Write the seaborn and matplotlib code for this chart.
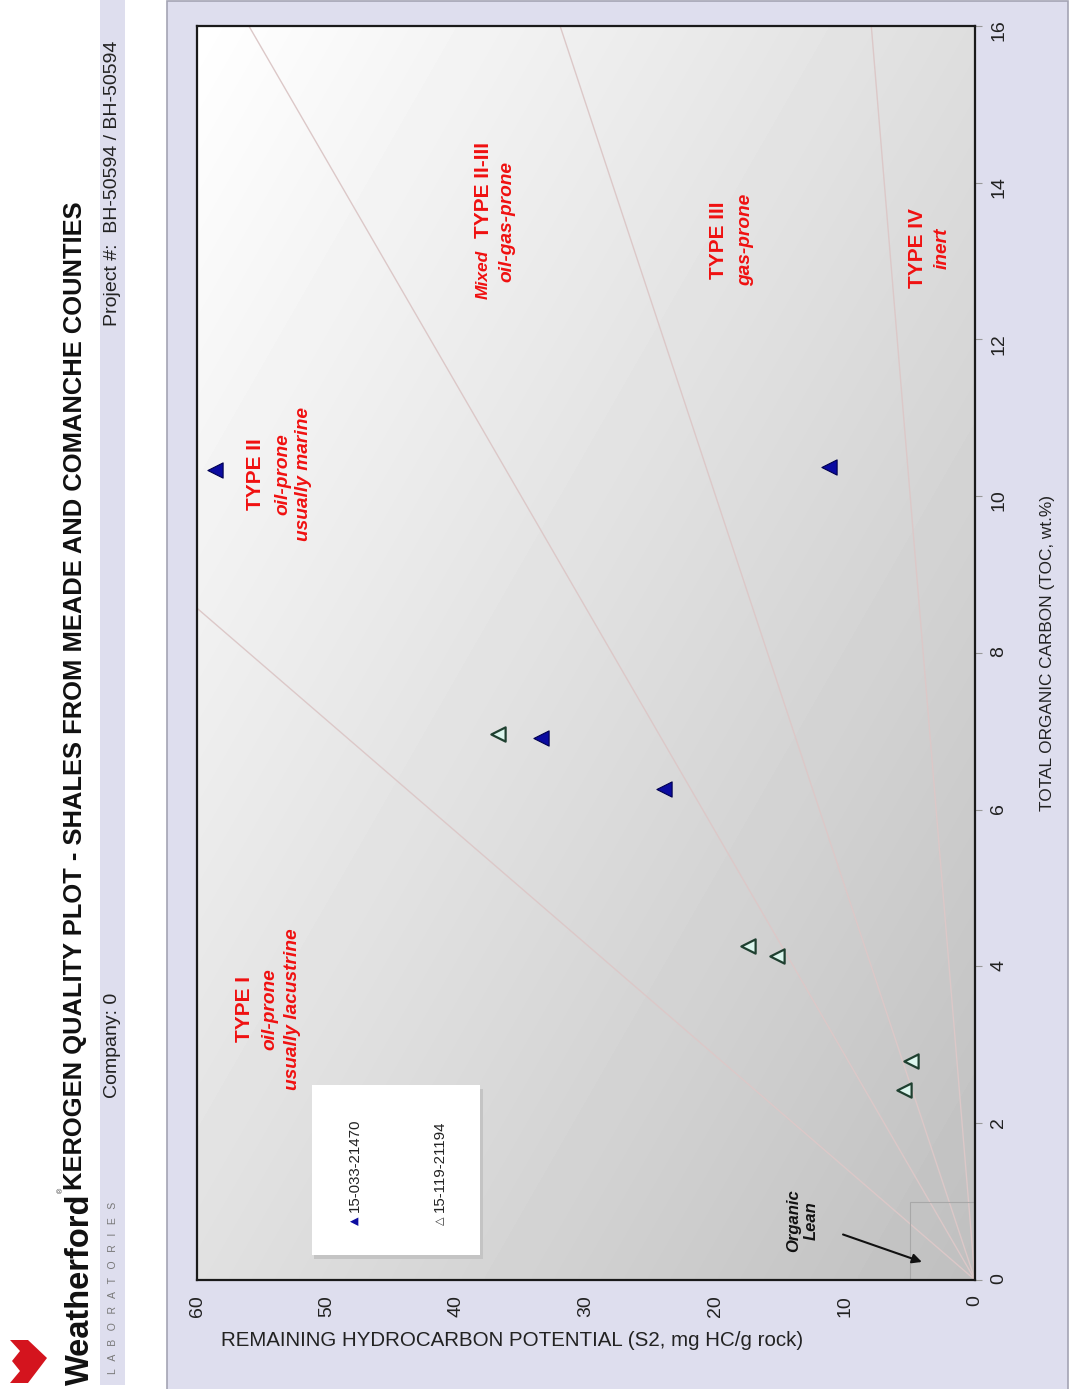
import numpy as np
import pandas as pd
import seaborn as sns
import matplotlib
matplotlib.use("Agg")
import matplotlib.pyplot as plt
from matplotlib.patches import Rectangle, Polygon

# values (S2 in mg HC/g rock, TOC in wt.%)
well_a = "15-033-21470"
well_a_s2 = [58.6, 33.5, 24.0, 11.3]
well_a_toc = [10.34, 6.91, 6.27, 10.37]

well_b = "15-119-21194"
well_b_s2 = [36.8, 17.5, 15.3, 4.9, 5.5]
well_b_toc = [6.97, 4.26, 4.13, 2.80, 2.42]

# kerogen type boundaries as hydrogen index (mg HC/g TOC)
hi_bounds = [700, 350, 200, 50]

s2_ticks = [0, 10, 20, 30, 40, 50, 60]
toc_ticks = [0, 2, 4, 6, 8, 10, 12, 14, 16]

title = "KEROGEN QUALITY PLOT - SHALES FROM MEADE AND COMANCHE COUNTIES"
company = "Company: 0"
project = "Project #:  BH-50594 / BH-50594"
xlab = "REMAINING HYDROCARBON POTENTIAL (S2, mg HC/g rock)"
ylab = "TOTAL ORGANIC CARBON (TOC, wt.%)"

sns.set_style("white")
plt.rcParams['font.family'] = ['Liberation Sans', 'DejaVu Sans']
red = '#f01010'

fig = plt.figure(figsize=(10.73, 13.89), dpi=100)
fig.patch.set_facecolor('white')

# lavender panel and header strip
fig.add_artist(Rectangle((0.1556, -0.01), 0.8397, 1.0093, transform=fig.transFigure,
                         facecolor='#dedeee', edgecolor='#a4a4b4', lw=1.2, zorder=0))
fig.add_artist(Rectangle((0.0932, 0.003), 0.0233, 0.997, transform=fig.transFigure,
                         facecolor='#dedeee', edgecolor='none', zorder=0))

ax = fig.add_axes([0.1836, 0.0785, 0.7251, 0.9028])

# shaded plot background
u, v = np.meshgrid(np.linspace(0, 1, 200), np.linspace(0, 1, 200))
shade = 1 - 0.13 * u - 0.12 * (1 - v)
ax.imshow(shade, cmap='gray', vmin=0, vmax=1, extent=[0, 1, 0, 1], transform=ax.transAxes,
          origin='lower', aspect='auto', zorder=0, interpolation='bilinear')

# type boundary lines
for hi in hi_bounds:
    toc_end = min(16, 60 / (hi / 100))
    ax.plot([0, toc_end * hi / 100], [0, toc_end], color='#dcc8c8', lw=1.0, zorder=1)

# organic lean box
ax.add_patch(Rectangle((0, 0), 5, 1, fill=False, edgecolor='#a8a8a8', lw=0.8, zorder=1))

sns.scatterplot(x=well_a_s2, y=well_a_toc, marker='<', s=120, color='#0b0ba0',
                edgecolor='#000050', linewidth=0.8, ax=ax, legend=False, zorder=5)
sns.scatterplot(x=well_b_s2, y=well_b_toc, marker='<', s=105, color='#dcf6ee',
                edgecolor='#1f4030', linewidth=1.6, ax=ax, legend=False, zorder=5)

ax.set_xlim(60, 0)
ax.set_ylim(0, 16)
ax.set_xticks(s2_ticks)
ax.set_yticks(toc_ticks)
ax.yaxis.tick_right()
ax.tick_params(axis='x', labelrotation=90, length=5, color='#999999', labelsize=14, pad=6,
               labelcolor='#222222')
ax.tick_params(axis='y', labelrotation=90, length=5, color='#999999', labelsize=14, pad=6,
               labelcolor='#222222', left=False, right=True)
for s in ax.spines.values():
    s.set_color('#1a1a1a')
    s.set_linewidth(1.6)

ax.set_xlabel(xlab, fontsize=14.8, color='#222222')
ax.xaxis.set_label_coords(0.405, -0.041)
ax.yaxis.set_label_position('right')
ax.set_ylabel(ylab, fontsize=12.4, color='#222222', rotation=90)
ax.yaxis.set_label_coords(1.0835, 0.5)

# kerogen type labels
tb = dict(color=red, rotation=90, ha='center', va='center', fontweight='bold', zorder=6)
ti = dict(color=red, rotation=90, ha='center', va='center', fontweight='bold',
          style='italic', zorder=6)
ax.text(56.3, 3.46, "TYPE I", fontsize=15, **tb)
ax.text(54.4, 3.46, "oil-prone", fontsize=13.8, **ti)
ax.text(52.6, 3.46, "usually lacustrine", fontsize=13.8, **ti)
ax.text(55.5, 10.28, "TYPE II", fontsize=15, **tb)
ax.text(53.4, 10.28, "oil-prone", fontsize=13.8, **ti)
ax.text(51.8, 10.28, "usually marine", fontsize=13.8, **ti)
ax.text(37.9, 12.52, "Mixed", fontsize=12.5, **dict(ti, va='bottom'))
ax.text(37.9, 13.3, "TYPE II-III", fontsize=15, **dict(tb, va='bottom'))
ax.text(36.1, 13.51, "oil-gas-prone", fontsize=13.8, **ti)
ax.text(19.8, 13.27, "TYPE III", fontsize=15, **tb)
ax.text(17.7, 13.27, "gas-prone", fontsize=13.8, **ti)
ax.text(4.4, 13.16, "TYPE IV", fontsize=15, **tb)
ax.text(2.5, 13.16, "inert", fontsize=13.8, **ti)

ax.annotate("Organic\nLean", xy=(4.1, 0.23), xytext=(13.3, 0.76), rotation=90,
            ha='center', va='center', multialignment='center', fontsize=12,
            fontweight='bold', style='italic', color='#111111', zorder=6,
            arrowprops=dict(arrowstyle='-|>', color='#111111', lw=1.5,
                            shrinkA=16, shrinkB=0, mutation_scale=14))

# legend box
ax.add_patch(Rectangle((0.151, 0.017), 0.216, 0.1355, transform=ax.transAxes,
                       facecolor='#c4c4c4', edgecolor='none', zorder=6))
ax.add_patch(Rectangle((0.148, 0.020), 0.216, 0.1355, transform=ax.transAxes,
                       facecolor='white', edgecolor='none', zorder=7))
ax.text(0.203, 0.044, "\u25B2", transform=ax.transAxes, rotation=90, ha='center',
        va='bottom', fontsize=8, color='#0b0ba0', zorder=8, family='DejaVu Sans')
ax.text(0.203, 0.0545, well_a, transform=ax.transAxes, rotation=90, ha='center',
        va='bottom', fontsize=10.8, color='#222222', zorder=8)
ax.text(0.312, 0.044, "\u25B3", transform=ax.transAxes, rotation=90, ha='center',
        va='bottom', fontsize=8, color='#333333', zorder=8, family='DejaVu Sans')
ax.text(0.312, 0.0545, well_b, transform=ax.transAxes, rotation=90, ha='center',
        va='bottom', fontsize=10.8, color='#222222', zorder=8)

# header
fig.text(0.0699, 1 - 1190 / 1389, title, rotation=90, ha='center', va='bottom',
         fontsize=18.4, fontweight='bold', color='#111111')
fig.text(0.0746, 1 - 1385 / 1389, "Weatherford", rotation=90, ha='center', va='bottom',
         fontsize=23.5, fontweight='bold', color='#111111')
fig.text(0.0575, 1 - 1190 / 1389, "\u00AE", rotation=90, ha='center', va='center',
         fontsize=5, color='#333333')
fig.text(0.1053, 1 - 1288 / 1389, "L   A   B   O   R   A   T   O   R   I   E   S",
         rotation=90, ha='center', va='center', fontsize=7.5, color='#777777')
fig.text(0.1053, 1 - 1045 / 1389, company, rotation=90, ha='center', va='center',
         fontsize=14, color='#222222')
fig.text(0.1053, 1 - 183 / 1389, project, rotation=90, ha='center', va='center',
         fontsize=14, color='#222222')

# red logo mark
logo_px = [(10, 1340), (28, 1340), (47, 1358), (28, 1383), (10, 1383),
           (20, 1371), (12, 1361), (20, 1351)]
fig.add_artist(Polygon([(x / 1073, 1 - y / 1389) for x, y in logo_px], closed=True,
                       transform=fig.transFigure, facecolor='#d4141e', edgecolor='none'))

fig.savefig("out.png", dpi=100)
